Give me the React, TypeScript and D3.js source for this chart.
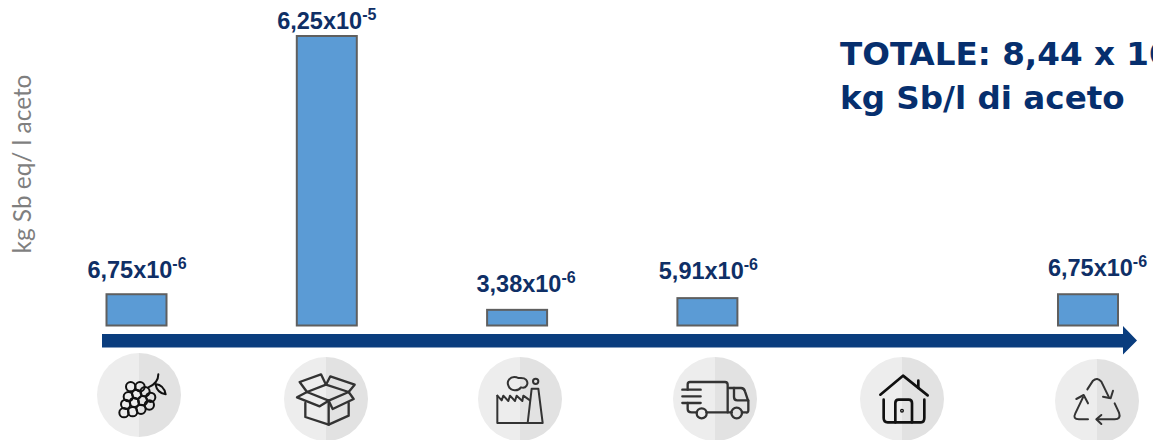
import React from "react";
import * as d3 from "d3";

// Life-cycle stages along the arrow, with resource depletion per litre of vinegar (kg Sb eq/l)
const stages = ["uva", "imballaggi", "produzione", "trasporto", "uso", "fineVita"];
const values: (number | null)[] = [6.75e-6, 6.25e-5, 3.38e-6, 5.91e-6, null, 6.75e-6];
const mantissas = ["6,75", "6,25", "3,38", "5,91", "", "6,75"];
const exponents = ["-6", "-5", "-6", "-6", "", "-6"];
const labelGaps = [16, 7, 18, 19, 0, 18];
const labelShifts = [0.5, 0, 9, 1, 0, 9.5];

const WIDTH = 1153;
const HEIGHT = 440;
const BAR_WIDTH = 60;
const NAVY = "#0a3d7e";
const TEXT_NAVY = "#0f2f66";

const x = d3.scalePoint<string>().domain(stages).range([136.5, 1088]);
const y = d3.scaleLinear().domain([0, 6.25e-5]).range([325.5, 36]);

const halfDisc = d3.arc<{ startAngle: number; endAngle: number }>().innerRadius(0).outerRadius(42);

// Icon badge: a disc in two greys, with line art drawn at triple scale around its own origin
function Badge({ cx, cy, ox, oy, color = "#333", sw = 6, children }: any) {
  return (
    <g transform={`translate(${cx},${cy})`}>
      <path d={halfDisc({ startAngle: Math.PI, endAngle: 2 * Math.PI }) ?? ""} fill="#ededed" />
      <path d={halfDisc({ startAngle: 0, endAngle: Math.PI }) ?? ""} fill="#e2e2e2" />
      <g
        transform={`scale(${1 / 3}) translate(${-ox},${-oy})`}
        fill="none"
        stroke={color}
        strokeWidth={sw}
        strokeLinecap="round"
        strokeLinejoin="round"
      >
        {children}
      </g>
    </g>
  );
}

const grapeBerries = [
  [152, 140], [180, 140], [195, 155], [145, 170], [170, 163], [212, 172], [137, 193],
  [163, 187], [188, 182], [208, 195], [132, 218], [158, 215], [183, 208],
];

function Grapes() {
  return (
    <Badge cx={139} cy={395} ox={177} oy={165} color="#111" sw={6}>
      {grapeBerries.map(([a, b], i) => (
        <circle key={i} cx={a} cy={b} r={14} />
      ))}
      <path d="M205,142 Q235,130 235,103" />
      <path d="M226,132 Q252,135 257,163 Q232,160 226,132 Z" />
    </Badge>
  );
}

function Box() {
  return (
    <Badge cx={326} cy={399} ox={737} oy={178} sw={7}>
      <path d="M675,190 V232 L745,255 L805,228 V190" />
      <path d="M745,183 V255" />
      <path d="M680,157 L737,135 L805,157 L745,183 Z" />
      <path d="M680,157 L650,173 L718,200 L745,183" />
      <path d="M805,157 L820,178 L757,208 L745,183" />
      <path d="M680,157 L658,127 L722,104 L737,135" />
      <path d="M737,135 L750,110 L823,135 L805,157" />
    </Badge>
  );
}

function Factory() {
  return (
    <Badge cx={520} cy={399} ox={180} oy={178} sw={6}>
      <path d="M112,168 V250 H248 L235,147 H215 L203,250" />
      <path d="M112,168 L125,182 L130,168 L145,184 L150,168 L165,184 L170,168 L187,184 L190,168 L210,182" />
      <path d="M170,113 C150,108 138,125 146,140 C152,155 175,155 183,143 C198,148 208,132 198,120 C190,112 180,118 170,113 Z" />
      <circle cx={227} cy={125} r={8} />
    </Badge>
  );
}

function Truck() {
  return (
    <Badge cx={715} cy={399} ox={765} oy={178} sw={7}>
      <path d="M683,150 V134 Q683,127 690,127 H795 Q803,127 803,135 V218" />
      <path d="M667,150 H722 M667,170 H722 M667,190 H722" />
      <path d="M683,190 V208 Q683,218 695,218 H710" />
      <circle cx={725} cy={221} r={15} />
      <path d="M740,218 H815" />
      <circle cx={830} cy={220} r={16} />
      <path d="M807,145 H843 Q852,145 855,155 L865,185 V212 Q865,220 858,218 H846" />
      <path d="M822,145 V172 Q822,182 832,182 H865" />
    </Badge>
  );
}

function Home() {
  return (
    <Badge cx={902} cy={399} ox={155} oy={238} color="#111" sw={8}>
      <path d="M90,225 L158,168 L232,227" />
      <path d="M204,183 V205" />
      <path d="M100,240 V295 Q100,308 112,308 H212 Q222,308 222,295 V240" />
      <path d="M135,308 V250 Q135,240 145,240 H175 Q185,240 185,250 V308" />
      <circle cx={155} cy={273} r={2} />
    </Badge>
  );
}

function Recycle() {
  return (
    <Badge cx={1097} cy={401} ox={742} oy={243} sw={6}>
      <path d="M713,208 L730,182 Q743,170 755,185 L778,232" />
      <path d="M790,212 L783,235 L760,230" />
      <path d="M715,298 H688 Q668,298 677,280 L700,232" />
      <path d="M680,237 L702,225 L715,250" />
      <path d="M795,250 L808,278 Q815,298 795,298 H742" />
      <path d="M755,285 L740,298 L755,312" />
    </Badge>
  );
}

export default function App() {
  const shaft = d3.path();
  shaft.moveTo(102, 334);
  shaft.lineTo(1123, 334);
  shaft.lineTo(1123, 326);
  shaft.lineTo(1137, 340.5);
  shaft.lineTo(1123, 354.5);
  shaft.lineTo(1123, 347.5);
  shaft.lineTo(102, 347.5);
  shaft.closePath();

  return (
    <svg
      width={WIDTH}
      height={HEIGHT}
      viewBox={`0 0 ${WIDTH} ${HEIGHT}`}
      style={{ position: "absolute", left: 0, top: 0, background: "#fff" }}
    >
      <text
        transform="translate(31,164) rotate(-90)"
        textAnchor="middle"
        fontFamily="Lato, sans-serif"
        fontSize={24.4}
        fill="#7f7f7f"
      >
        kg Sb eq/ l aceto
      </text>

      {stages.map((s, i) => {
        const v = values[i];
        if (v === null) return null;
        const top = y(v);
        const cx = x(s) as number;
        return (
          <g key={s}>
            <rect
              x={cx - BAR_WIDTH / 2}
              y={top}
              width={BAR_WIDTH}
              height={y(0) - top}
              fill="#5b9bd5"
              stroke="#5f5f5f"
              strokeWidth={2}
            />
            <text
              x={cx + labelShifts[i]}
              y={top - labelGaps[i]}
              textAnchor="middle"
              fontFamily="Liberation Sans, Arial, sans-serif"
              fontWeight={700}
              fontSize={23.5}
              fill={TEXT_NAVY}
            >
              {mantissas[i]}x10
              <tspan fontSize={16} dy={-9}>
                {exponents[i]}
              </tspan>
            </text>
          </g>
        );
      })}

      <path d={shaft.toString()} fill={NAVY} />

      <Grapes />
      <Box />
      <Factory />
      <Truck />
      <Home />
      <Recycle />

      <g fontFamily="DejaVu Sans, Verdana, sans-serif" fontWeight={700} fontSize={32.6} fill="#062f6e">
        <text x={840} y={65}>
          TOTALE: 8,44 x 10
        </text>
        <text x={840} y={109}>
          kg Sb/l di aceto
        </text>
      </g>
    </svg>
  );
}
